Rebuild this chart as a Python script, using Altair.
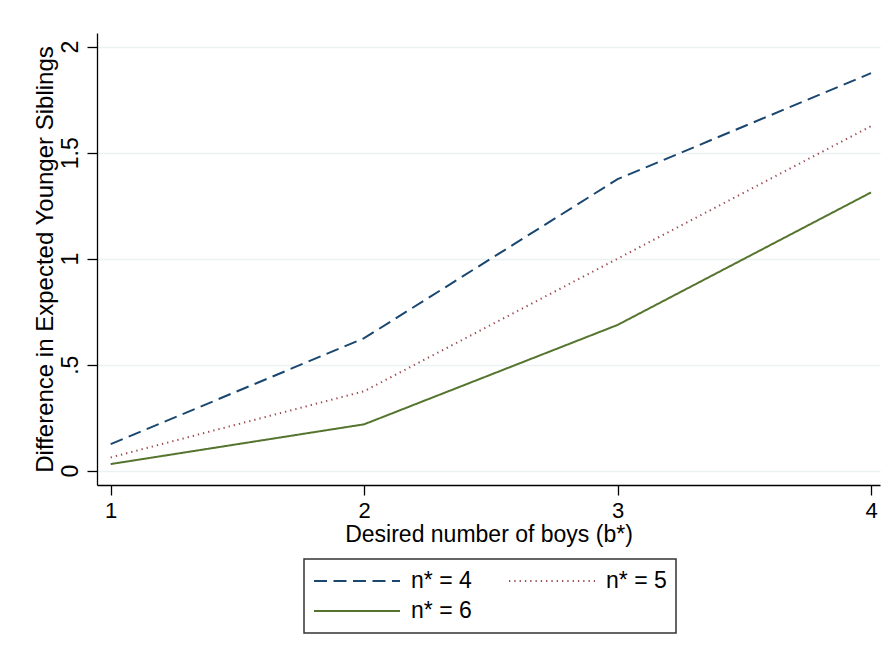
import altair as alt
import pandas as pd

boys = [1, 2, 3, 4]
n4 = [0.125, 0.625, 1.375, 1.875]
n5 = [0.0625, 0.375, 1.0, 1.625]
n6 = [0.03125, 0.21875, 0.6875, 1.3125]
series_names = ["n* = 4", "n* = 5", "n* = 6"]
legend_order = ["n* = 4", "n* = 6", "n* = 5"]
series_colors = ["#1a476f", "#9c4a50", "#55752f"]
series_dashes = [[13, 6.5], [1.3, 4], [1, 0]]

rows = []
for name, vals in zip(series_names, [n4, n5, n6]):
    for b, v in zip(boys, vals):
        rows.append({"boys": b, "diff": v, "series": name})
df = pd.DataFrame(rows)

FONT = "Liberation Sans"


def make_legend():
    return alt.Legend(
        title=None,
        orient="none",
        legendX=207,
        legendY=526,
        columns=2,
        columnPadding=36,
        rowPadding=4,
        clipHeight=26,
        values=legend_order,
        symbolType="stroke",
        symbolSize=7396,
        symbolStrokeWidth=2,
        labelOffset=10,
        padding=9,
        strokeColor="#333333",
    )


chart = alt.Chart(df).mark_line(strokeWidth=2).encode(
    x=alt.X(
        "boys:Q",
        scale=alt.Scale(domain=[0.946, 4.0355], nice=False, zero=False),
        axis=alt.Axis(
            title="Desired number of boys (b*)",
            values=[1, 2, 3, 4],
            format="d",
            grid=False,
            tickSize=10,
            labelPadding=5,
            labelFontSize=22,
            titleY=38,
            titleBaseline="top",
        ),
    ),
    y=alt.Y(
        "diff:Q",
        scale=alt.Scale(domain=[-0.0675, 2.0646], nice=False, zero=False),
        axis=alt.Axis(
            title="Difference in Expected Younger Siblings",
            values=[0, 0.5, 1, 1.5, 2],
            labelExpr="datum.value > 0 && datum.value < 1 ? replace(toString(datum.value), '0.', '.') : toString(datum.value)",
            grid=True,
            gridColor="#eaf2f3",
            gridWidth=1.5,
            tickSize=10,
            labelAngle=270,
            labelAlign="center",
            labelBaseline="bottom",
            labelPadding=5,
            titleAngle=270,
            titleAlign="center",
            titleBaseline="bottom",
            titleX=-40,
            titleY=226,
            titleFontSize=24,
        ),
    ),
    color=alt.Color(
        "series:N",
        scale=alt.Scale(domain=series_names, range=series_colors),
        legend=make_legend(),
    ),
    strokeDash=alt.StrokeDash(
        "series:N",
        scale=alt.Scale(domain=series_names, range=series_dashes),
        legend=make_legend(),
    ),
).properties(
    width=783,
    height=452,
    autosize=alt.AutoSizeParams(type="none"),
    padding={"left": 97, "top": 33, "right": 1, "bottom": 177},
    background="white",
).configure_view(
    stroke=None,
).configure_axis(
    domainColor="#000000",
    domainWidth=1.3,
    tickColor="#000000",
    tickWidth=1.3,
    labelFont=FONT,
    titleFont=FONT,
    labelFontSize=23,
    titleFontSize=23,
    labelColor="#000000",
    titleColor="#000000",
    titleFontWeight="normal",
).configure_legend(
    labelFont=FONT,
    labelFontSize=23,
    labelColor="#000000",
    strokeWidth=1.5,
    cornerRadius=0,
    fillColor="white",
)

chart.save("out.html", embed_options={"renderer": "svg", "actions": False})
